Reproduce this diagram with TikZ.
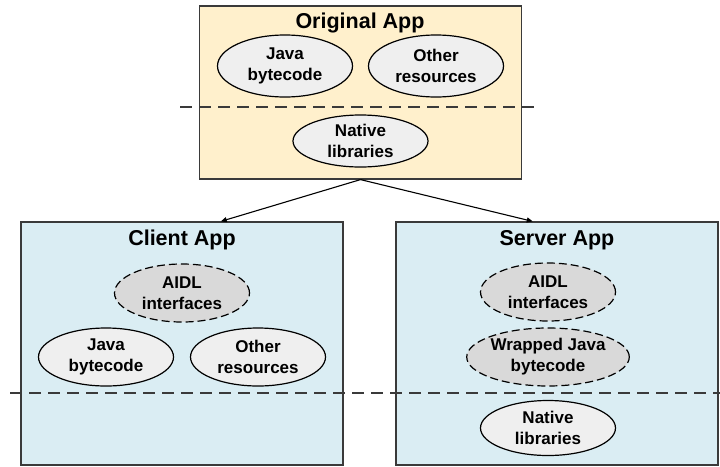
\documentclass[tikz,border=0pt]{standalone}
\usepackage{fontspec}
\setmainfont{Liberation Sans}
\usetikzlibrary{shapes.geometric,arrows.meta,calc}

\definecolor{appOrange}{HTML}{FFF0CC}
\definecolor{appBlue}{HTML}{DAEDF3}
\definecolor{partGray}{HTML}{EFEFEF}
\definecolor{wrapGray}{HTML}{D9D9D9}
\definecolor{lineGray}{HTML}{3A3A3A}

\tikzset{
	appbox/.style={draw=lineGray, line width=1.2pt, minimum width=322pt, minimum height=243pt, inner sep=0pt},
	apptitle/.style={font=\fontsize{21.5}{24}\selectfont\bfseries},
	part/.style={ellipse, draw=black, line width=1.2pt, fill=partGray, minimum width=135pt, minimum height=58pt, inner sep=0pt, align=center, font=\fontsize{17}{21}\selectfont\bfseries},
	wrapped/.style={part, fill=wrapGray, dash pattern=on 8pt off 4pt},
	splitline/.style={draw=lineGray, line width=1.4pt, dash pattern=on 12pt off 7pt}
}

\begin{document}
\begin{tikzpicture}[x=1pt, y=-1pt]
	\useasboundingbox (0,0) rectangle (720,466);

	% original app
	\node[appbox, fill=appOrange, minimum height=173pt] (orig) at (360.5,92.5) {};
	\node[apptitle] (origT) at (360,23) {Original App};
	\node[part, minimum height=62pt] (origJava) at (285,66) {Java\\bytecode};
	\node[part, minimum height=62pt] (origRes) at (436,66) {Other\\resources};
	\node[part, minimum height=52pt] (origNat) at (360.5,141) {Native\\libraries};
	\draw[splitline] (180,107) -- (536,107);

	% client app
	\node[appbox, fill=appBlue] (client) at (182,343.5) {};
	\node[apptitle] (clientT) at (182,240) {Client App};
	\node[wrapped] (clientAidl) at (182,293) {AIDL\\interfaces};
	\node[part] (clientJava) at (106,357) {Java\\bytecode};
	\node[part] (clientRes) at (258,357) {Other\\resources};

	% server app
	\node[appbox, fill=appBlue] (server) at (557,343.5) {};
	\node[apptitle] (serverT) at (557,240) {Server App};
	\node[wrapped] (serverAidl) at (548,292) {AIDL\\interfaces};
	\node[wrapped, minimum width=162pt] (serverWrap) at (548,357) {Wrapped Java\\bytecode};
	\node[part, minimum height=55pt] (serverNat) at (548,428) {Native\\libraries};

	\draw[splitline] (10,393) -- (720,393);

	% split arrows
	\draw[-{Triangle[length=6pt,width=5pt]}, line width=1.1pt] (orig.south) -- ($(client.north west)!0.62!(client.north east)$);
	\draw[-{Triangle[length=6pt,width=5pt]}, line width=1.1pt] (orig.south) -- ($(server.north west)!0.425!(server.north east)$);
\end{tikzpicture}
\end{document}
